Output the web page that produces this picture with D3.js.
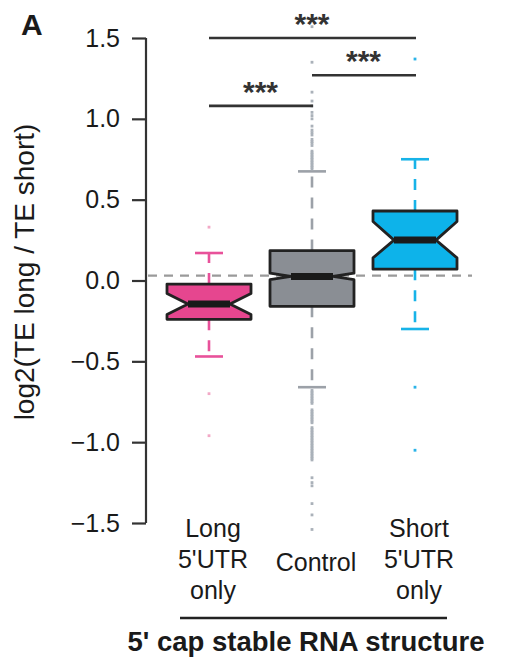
<!DOCTYPE html>
<html><head><meta charset="utf-8">
<script src="https://cdn.jsdelivr.net/npm/d3@7"></script>
<style>body{margin:0;background:#fff}svg{display:block;font-family:"Liberation Sans",Arial,sans-serif}</style>
</head><body><svg id="c" width="512" height="664"></svg>
<script>
const categories = ["Long 5'UTR only", "Control", "Short 5'UTR only"];
const catLines = [["Long","5'UTR","only"],["Control"],["Short","5'UTR","only"]];
const q1 = [-0.24, -0.16, 0.07];
const medians = [-0.146, 0.025, 0.25];
const q3 = [-0.022, 0.185, 0.43];
const notchLo = [-0.21, 0.005, 0.14];
const notchHi = [-0.08, 0.045, 0.365];
const whiskLo = [-0.47, -0.66, -0.30];
const whiskHi = [0.17, 0.675, 0.75];
const outliersLong = [0.33, -0.70, -0.96];
const outliersControl = [1.57, 1.35, 1.165, 1.11, 1.08, 1.04, 1.02, 1.0, 0.955, 0.93, 0.915, 0.9, 0.873, 0.86, 0.85, 0.835,
  0.80, 0.79, 0.78, 0.77, 0.76, 0.75, 0.74, 0.73, 0.72, 0.71, 0.70, 0.69,
  -0.68, -0.69, -0.70, -0.71, -0.72, -0.73, -0.74, -0.75, -0.76, -0.80, -0.81, -0.82, -0.83, -0.84, -0.85, -0.86, -0.87, -0.88,
  -0.91, -0.92, -0.93, -0.94, -0.95, -0.96, -0.97, -0.98, -0.99, -1.00, -1.01, -1.02, -1.03, -1.04, -1.05, -1.06, -1.07, -1.08, -1.09, -1.10, -1.11,
  -1.22, -1.25, -1.27, -1.38, -1.45, -1.54];
const outliersShort = [1.37, -0.66, -1.05];
const yTicks = [-1.5, -1.0, -0.5, 0.0, 0.5, 1.0, 1.5];
const refLine = 0.03;
const sigBars = [{from:0,to:2,level:1.5,label:"***"},{from:1,to:2,level:1.27,label:"***"},{from:0,to:1,level:1.08,label:"***"}];

const boxFill = ["#e6468f","#8a8e94","#0db3ea"];
const whiskCol = ["#e8519a","#9ca1a8","#17b3e8"];
const outCol = ["#f2a8c6","#aab1b9","#2ab3e8"];
const outliers = [outliersLong, outliersControl, outliersShort];

const svg = d3.select("#c");
const y = d3.scaleLinear().domain([-1.5,1.5]).range([523,38]);
const x = d3.scalePoint().domain(categories).range([209,415]);
const bw = 84;

// axis
const ax = svg.append("g").attr("transform","translate(146,0)")
  .call(d3.axisLeft(y).tickValues(yTicks).tickFormat(d=>d3.format(".1f")(d).replace("-","\u2212")).tickSize(14).tickPadding(12));
ax.select(".domain").attr("stroke","#333").attr("stroke-width",2.2).attr("d",`M0,${y(1.5)}V${y(-1.5)}`);
ax.selectAll(".tick line").attr("stroke","#333").attr("stroke-width",2.2);
ax.selectAll(".tick text").attr("font-size",25).attr("fill","#1a1a1a").attr("font-family","Liberation Sans, Arial");

// y title
svg.append("text").attr("transform",`translate(34,272) rotate(-90)`)
  .attr("text-anchor","middle").attr("font-size",28).attr("fill","#1a1a1a").text("log2(TE long / TE short)");
svg.append("text").attr("x",21).attr("y",35).attr("font-size",30).attr("font-weight","bold").attr("fill","#1a1a1a").text("A");

// reference line
svg.append("line").attr("x1",148).attr("x2",472).attr("y1",y(refLine)).attr("y2",y(refLine))
  .attr("stroke","#9a9a9a").attr("stroke-width",2.2).attr("stroke-dasharray","9,7");

categories.forEach((c,i)=>{
  const cx = x(c), L = cx-bw/2, R = cx+bw/2, wl = cx-bw/4, wr = cx+bw/4;
  const g = svg.append("g");
  // whiskers
  [[q3[i],whiskHi[i]],[q1[i],whiskLo[i]]].forEach(([a,b])=>{
    g.append("line").attr("x1",cx).attr("x2",cx).attr("y1",y(a)).attr("y2",y(b))
      .attr("stroke",whiskCol[i]).attr("stroke-width",2.6).attr("stroke-dasharray","11,10");
    g.append("line").attr("x1",cx-14).attr("x2",cx+14).attr("y1",y(b)).attr("y2",y(b))
      .attr("stroke",whiskCol[i]).attr("stroke-width",2.6);
  });
  // outliers
  g.selectAll("rect.o").data(outliers[i]).join("rect").attr("class","o")
    .attr("x",cx-1.4).attr("y",d=>y(d)-1.4).attr("width",2.8).attr("height",2.8).attr("fill",outCol[i]);
  // box
  const pts = [[L,y(q3[i])],[R,y(q3[i])],[R,y(notchHi[i])],[wr,y(medians[i])],[R,y(notchLo[i])],[R,y(q1[i])],
    [L,y(q1[i])],[L,y(notchLo[i])],[wl,y(medians[i])],[L,y(notchHi[i])]];
  g.append("path").attr("d",d3.line()(pts)+"Z").attr("fill",boxFill[i]).attr("stroke","#222").attr("stroke-width",2.8).attr("stroke-linejoin","round");
  g.append("line").attr("x1",wl).attr("x2",wr).attr("y1",y(medians[i])).attr("y2",y(medians[i]))
    .attr("stroke","#1a1a1a").attr("stroke-width",7);
  // labels
  const lines = catLines[i];
  const base = lines.length===1 ? 571 : 537;
  lines.forEach((t,k)=>svg.append("text").attr("x",cx+4).attr("y",base+k*31).attr("text-anchor","middle")
    .attr("font-size",25).attr("fill","#1a1a1a").text(t));
});

// significance bars
sigBars.forEach(s=>{
  const x1 = x(categories[s.from]), x2 = x(categories[s.to]), yy = y(s.level);
  svg.append("line").attr("x1",x1).attr("x2",x2+1).attr("y1",yy).attr("y2",yy).attr("stroke","#333").attr("stroke-width",2.6);
  svg.append("text").attr("x",(x1+x2)/2).attr("y",yy-4).attr("text-anchor","middle")
    .attr("font-size",30).attr("font-weight","bold").attr("fill","#333").text(s.label);
});

// bottom group line + title
svg.append("line").attr("x1",180).attr("x2",447).attr("y1",618).attr("y2",618).attr("stroke","#222").attr("stroke-width",2.6);
svg.append("text").attr("x",306).attr("y",651).attr("text-anchor","middle").attr("font-size",27.5).attr("font-weight","bold")
  .attr("fill","#1a1a1a").text("5' cap stable RNA structure");
</script></body></html>
